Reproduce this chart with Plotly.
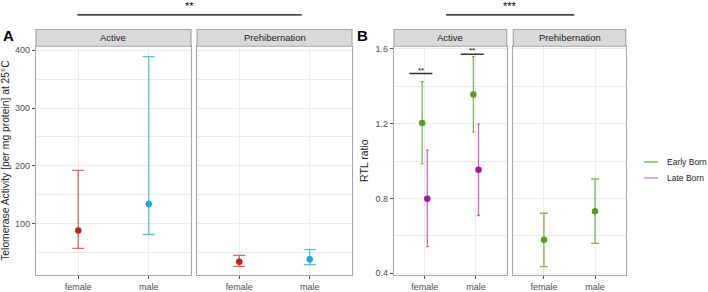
import plotly.graph_objects as go

# ---------------- data ----------------
sex = ["female", "male"]
facets = ["Active", "Prehibernation"]

# Panel A: telomerase activity (mean, lower, upper) per facet
ta_active_mean = [88, 134]
ta_active_low = [57, 81]
ta_active_high = [192, 389]
ta_preh_mean = [34, 38]
ta_preh_low = [26, 29]
ta_preh_high = [45, 55]

# Panel B: RTL ratio
rtl_active_early_mean = [1.204, 1.356]
rtl_active_early_low = [0.986, 1.156]
rtl_active_early_high = [1.425, 1.558]
rtl_active_late_mean = [0.798, 0.953]
rtl_active_late_low = [0.542, 0.709]
rtl_active_late_high = [1.058, 1.197]
rtl_preh_early_mean = [0.579, 0.732]
rtl_preh_early_low = [0.435, 0.560]
rtl_preh_early_high = [0.721, 0.904]

# ---------------- styling ----------------
W, H = 708, 292
def px(x): return x / W
def py(y): return 1 - y / H

RED_PT, RED_EB = "#d7191c", "rgba(200,70,70,0.8)"
CY_PT, CY_EB = "#1aa7d8", "rgba(60,180,215,0.85)"
GR_PT, GR_EB = "#5a9e1a", "rgba(100,170,50,0.85)"
PU_PT, PU_EB = "#a0179c", "rgba(180,80,180,0.85)"
BORDER = "#a6a6a6"
GRID = "#ebebeb"
TICKC = "#4d4d4d"
FONT = "Liberation Sans, Arial, sans-serif"

xdom = [[px(36), px(191)], [px(197), px(352)], [px(394), px(506.7)], [px(513.3), px(625.7)]]
ydom = [py(277.7), py(45)]
strip_top = py(28)

fig = go.Figure()

def add_err(xax, yax, xs, mean, low, high, pcol, ecol, capw):
    fig.add_trace(go.Scatter(
        x=xs, y=mean, mode="markers", xaxis=xax, yaxis=yax,
        marker=dict(color=pcol, size=6.5),
        error_y=dict(type="data", symmetric=False,
                     array=[h - m for h, m in zip(high, mean)],
                     arrayminus=[m - l for m, l in zip(mean, low)],
                     color=ecol, thickness=1.3, width=capw),
        showlegend=False, hoverinfo="skip"))

pos = [1, 2]
dodge = 0.05
for i, (pc, ec) in enumerate([(RED_PT, RED_EB), (CY_PT, CY_EB)]):
    add_err("x", "y", [pos[i]], [ta_active_mean[i]], [ta_active_low[i]], [ta_active_high[i]], pc, ec, 6)
    add_err("x2", "y2", [pos[i]], [ta_preh_mean[i]], [ta_preh_low[i]], [ta_preh_high[i]], pc, ec, 6)

add_err("x3", "y3", [p - dodge for p in pos], rtl_active_early_mean, rtl_active_early_low,
        rtl_active_early_high, GR_PT, GR_EB, 1.5)
add_err("x3", "y3", [p + dodge for p in pos], rtl_active_late_mean, rtl_active_late_low,
        rtl_active_late_high, PU_PT, PU_EB, 1.5)
add_err("x4", "y4", pos, rtl_preh_early_mean, rtl_preh_early_low, rtl_preh_early_high,
        GR_PT, GR_EB, 4)

# ---------------- axes ----------------
common_x = dict(range=[0.4, 2.6], tickvals=pos, ticktext=sex, showgrid=True, gridcolor=GRID,
                gridwidth=1, zeroline=False, showline=True, linecolor=BORDER, linewidth=1.2,
                mirror=True, ticks="outside", ticklen=3, tickcolor=TICKC,
                tickfont=dict(family=FONT, size=9, color="#4d4d4d"))
for i, dom in enumerate(xdom):
    key = "xaxis" if i == 0 else f"xaxis{i+1}"
    fig.layout[key] = dict(common_x, domain=dom, anchor="y" if i == 0 else f"y{i+1}")

common_y = dict(showgrid=True, gridcolor=GRID, gridwidth=1, zeroline=False, showline=True,
                linecolor=BORDER, linewidth=1.2, mirror=True, ticks="outside", ticklen=3,
                tickcolor=TICKC, tickfont=dict(family=FONT, size=9, color="#4d4d4d"),
                domain=ydom)
fig.layout["yaxis"] = dict(common_y, anchor="x", range=[11, 407], tickvals=[100, 200, 300, 400],
                           minor=dict(tickvals=[50, 150, 250, 350], showgrid=True, gridcolor=GRID, ticks=""),
                           title=dict(text="Telomerase Activity [per mg protein] at 25°C",
                                      font=dict(family=FONT, size=10.3, color="#1a1a1a"), standoff=5))
fig.layout["yaxis2"] = dict(common_y, anchor="x2", matches="y", showticklabels=False, ticks="",
                            tickvals=[100, 200, 300, 400],
                            minor=dict(tickvals=[50, 150, 250, 350], showgrid=True, gridcolor=GRID, ticks=""))
fig.layout["yaxis3"] = dict(common_y, anchor="x3", range=[0.391, 1.614], tickvals=[0.4, 0.8, 1.2, 1.6],
                            ticktext=["0.4", "0.8", "1.2", "1.6"],
                            minor=dict(tickvals=[0.6, 1.0, 1.4], showgrid=True, gridcolor=GRID, ticks=""),
                            title=dict(text="RTL ratio", font=dict(family=FONT, size=10.5, color="#1a1a1a"),
                                       standoff=4))
fig.layout["yaxis4"] = dict(common_y, anchor="x4", matches="y3", showticklabels=False, ticks="",
                            tickvals=[0.4, 0.8, 1.2, 1.6],
                            minor=dict(tickvals=[0.6, 1.0, 1.4], showgrid=True, gridcolor=GRID, ticks=""))

shapes, annos = [], []
# strips
for dom, lab in zip(xdom, facets * 2):
    shapes.append(dict(type="rect", xref="paper", yref="paper", x0=dom[0], x1=dom[1],
                       y0=ydom[1], y1=strip_top, fillcolor="#d9d9d9",
                       line=dict(color=BORDER, width=1.2), layer="above"))
    annos.append(dict(xref="paper", yref="paper", x=(dom[0] + dom[1]) / 2,
                      y=(ydom[1] + strip_top) / 2, text=lab, showarrow=False,
                      font=dict(family=FONT, size=9.5, color="#1a1a1a"), xanchor="center", yanchor="middle"))

# panel letters
annos.append(dict(xref="paper", yref="paper", x=px(1), y=py(34), text="<b>A</b>", showarrow=False,
                  xanchor="left", yanchor="middle", font=dict(family=FONT, size=15, color="black")))
annos.append(dict(xref="paper", yref="paper", x=px(355), y=py(34), text="<b>B</b>", showarrow=False,
                  xanchor="left", yanchor="middle", font=dict(family=FONT, size=15, color="black")))

# top significance bars
for x0, x1, lab in [(77.3, 301.7, "**"), (446, 574.3, "***")]:
    shapes.append(dict(type="line", xref="paper", yref="paper", x0=px(x0), x1=px(x1),
                       y0=py(13), y1=py(13), line=dict(color="black", width=1.2)))
    annos.append(dict(xref="paper", yref="paper", x=px((x0 + x1) / 2), y=py(12), text=lab,
                      showarrow=False, xanchor="center", yanchor="bottom",
                      font=dict(family=FONT, size=11, color="black")))

# within-panel significance bars (B Active)
for xc, yv in [(1, 1.468), (2, 1.571)]:
    shapes.append(dict(type="line", xref="x3", yref="y3", x0=xc - 0.3, x1=xc + 0.15, y0=yv, y1=yv,
                       line=dict(color="#333333", width=1.6)))
    annos.append(dict(xref="x3", yref="y3", x=xc - 0.075, y=yv, text="**", showarrow=False,
                      xanchor="center", yanchor="bottom", yshift=-3,
                      font=dict(family=FONT, size=8, color="black")))

# legend (manual)
for yy, col, lab in [(162.7, "rgba(110,175,70,0.9)", "Early Born"), (179, "rgba(195,130,195,0.9)", "Late Born")]:
    shapes.append(dict(type="line", xref="paper", yref="paper", x0=px(644), x1=px(658),
                       y0=py(yy), y1=py(yy), line=dict(color=col, width=1.5)))
    annos.append(dict(xref="paper", yref="paper", x=px(665), y=py(yy), text=lab, showarrow=False,
                      xanchor="left", yanchor="middle", font=dict(family=FONT, size=8.5, color="#1a1a1a")))

fig.update_layout(width=W, height=H, margin=dict(l=0, r=0, t=0, b=0),
                  plot_bgcolor="white", paper_bgcolor="white", shapes=shapes, annotations=annos,
                  showlegend=False, font=dict(family=FONT))
fig.write_html("out.html", config={"displayModeBar": False},
               post_script="document.body.style.margin='0';document.body.style.overflow='hidden';")
